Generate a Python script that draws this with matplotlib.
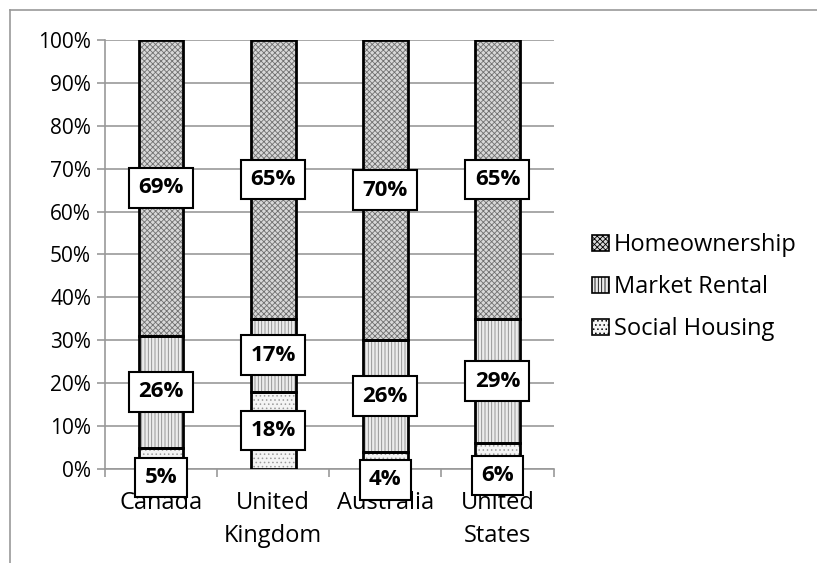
import matplotlib
matplotlib.use("Agg")
import matplotlib.pyplot as plt
from matplotlib.lines import Line2D
from matplotlib.patches import Patch
import numpy as np

plt.rcParams['font.family'] = ['Open Sans', 'DejaVu Sans']
plt.rcParams['hatch.linewidth'] = 0.6

countries = ["Canada", "United\nKingdom", "Australia", "United\nStates"]
series_names = ["Social Housing", "Market Rental", "Homeownership"]
social = [5, 18, 4, 6]
market = [26, 17, 26, 29]
home = [69, 65, 70, 65]

hatches = ["....", "|||||", "xxxxxx"]
hatch_cols = ["#9a9a9a", "#8a8a8a", "#707070"]
face_cols = ["#f4f4f4", "#ececec", "#d8d8d8"]

fig = plt.figure(figsize=(8.17, 5.63), dpi=100)
ax = fig.add_axes([0.1285, 0.167, 0.549, 0.762])

x = np.arange(len(countries))
w = 0.4
bottoms = np.zeros(len(countries))
for vals, name, h, hc, fc in zip([social, market, home], series_names, hatches, hatch_cols, face_cols):
    vals = np.array(vals, dtype=float)
    ax.bar(x, vals, w, bottom=bottoms, color=fc, edgecolor=hc, hatch=h, linewidth=0, zorder=3)
    ax.bar(x, vals, w, bottom=bottoms, fill=False, edgecolor="black", linewidth=2, zorder=4)
    for xi, b, v in zip(x, bottoms, vals):
        mid = b + v / 2
        # small segments: Excel pushes the label down below the segment middle
        if v < 10:
            mid = b + v / 2 - 4.5
        ax.text(xi, mid, f"{int(v)}%", ha='center', va='center', fontsize=16, fontweight='bold',
                zorder=6, clip_on=False,
                bbox=dict(boxstyle='square,pad=0.42', facecolor='white', edgecolor='black', linewidth=1.5))
    bottoms = bottoms + vals

ax.set_xlim(-0.5, len(countries) - 0.5)
ax.set_ylim(0, 100)
ax.set_yticks(np.arange(0, 101, 10))
ax.set_yticklabels([f"{v}%" for v in range(0, 101, 10)], fontsize=15)
ax.yaxis.grid(True, color="#999999", linewidth=1.2, zorder=0)
ax.set_axisbelow(True)

ax.set_xticks(x)
ax.set_xticklabels(countries, fontsize=17, linespacing=1.5)
ax.set_xticks(np.arange(-0.5, len(countries), 1), minor=True)
ax.tick_params(axis='x', which='major', length=0, pad=16)
ax.tick_params(axis='x', which='minor', length=6, color="#999999", width=1.2)
ax.tick_params(axis='y', length=6, color="#999999", width=1.2, pad=4)
for s in ['top', 'right']:
    ax.spines[s].set_visible(False)
for s in ['left', 'bottom']:
    ax.spines[s].set_color("#999999")
    ax.spines[s].set_linewidth(1.2)

# legend with outlined swatches, reversed order
leg_handles = []
for name, h, hc, fc in zip(series_names[::-1], hatches[::-1], hatch_cols[::-1], face_cols[::-1]):
    leg_handles.append(Patch(facecolor=fc, edgecolor="black", hatch=h, linewidth=1.2, label=name))
fig.legend(handles=leg_handles, loc='center left', bbox_to_anchor=(0.725, 0.49),
           frameon=False, fontsize=17, handlelength=0.7, handleheight=0.7,
           handletextpad=0.2, labelspacing=0.76, borderpad=0, borderaxespad=0)

# outer chart frame
fig.add_artist(Line2D([0.0125, 0.0125], [0.0, 0.982], transform=fig.transFigure, color="#999999", lw=1.2))
fig.add_artist(Line2D([0.0125, 1.0], [0.982, 0.982], transform=fig.transFigure, color="#999999", lw=1.2))

fig.savefig("out.png", dpi=100)
